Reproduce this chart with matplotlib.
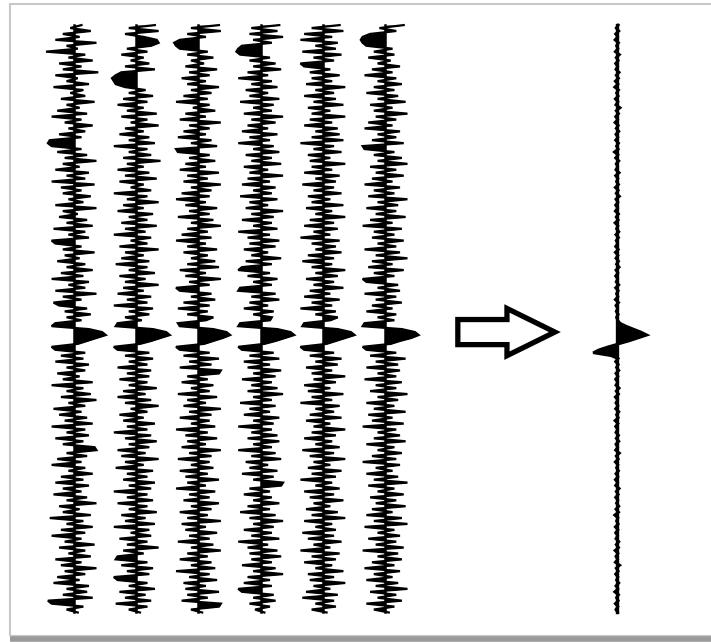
import numpy as np
import matplotlib.pyplot as plt
from matplotlib.patches import Rectangle, FancyArrow

# Raw gathers: six noisy traces (normalised amplitude, 2 ms sampling)
trace1 = [0.2, -0.1, 0.45, -0.3, 0.15, -0.5, 0.6, -0.2, 0.1, -0.75, 0.3, -0.15, 0.5, -0.4, 0.2, -0.3, 0.65, -0.5, 0.1, -0.2,
          0.4, -0.55, 0.25, -0.1, 0.3, -0.35, 0.55, -0.2, 0.15, -0.45, 0.35, -0.6, 0.2, -0.25, 0.5, -0.15, 0.3, -0.4, 0.2, -0.65,
          -0.7, -0.6, 0.2, -0.45, 0.35, -0.25, 0.6, -0.3, 0.15, -0.5, 0.4, -0.2, 0.3, -0.6, 0.55, -0.35, 0.2, -0.3, 0.45, -0.15,
          0.25, -0.5, 0.6, -0.3, 0.1, -0.4, 0.35, -0.2, 0.5, -0.55, 0.3, -0.15, 0.4, -0.6, -0.5, 0.2, -0.3, 0.55, -0.25, 0.15,
          -0.45, 0.3, -0.2, 0.5, -0.35, 0.25, -0.6, 0.4, -0.15, 0.3, -0.5, 0.6, -0.3, 0.2, -0.55, -0.4, 0.35, -0.25, 0.45, -0.2,
          0.2, -0.5, -0.6, 0.4, 0.75, 0.85, 0.6, 0.35, 0.1, -0.6, -0.5, 0.3, -0.35, 0.25, -0.5, 0.4, -0.2, 0.3, -0.45, 0.15,
          -0.3, 0.5, -0.6, 0.25, -0.2, 0.45, -0.35, 0.6, -0.15, 0.3, -0.55, 0.2, -0.4, 0.35, -0.25, 0.5, -0.6, 0.3, -0.2, 0.4,
          -0.5, 0.25, -0.3, 0.55, 0.6, -0.2, 0.35, -0.45, 0.2, -0.6, 0.3, -0.15, 0.5, -0.35, 0.25, -0.5, 0.4, -0.3, 0.2, -0.55,
          0.35, -0.2, 0.6, -0.4, 0.15, -0.3, 0.45, -0.65, 0.25, -0.2, 0.5, -0.35, 0.3, -0.6, 0.2, -0.25, 0.55, -0.4, 0.3, -0.15,
          0.45, -0.5, 0.2, -0.35, 0.6, -0.25, 0.3, -0.45, 0.15, -0.55, 0.4, -0.2, 0.35, -0.3, 0.5, -0.7, -0.6, 0.25, -0.2, 0.1]
trace2 = [0.5, -0.2, 0.6, -0.3, 0.2, 0.55, 0.6, 0.4, -0.25, 0.3, -0.4, 0.2, -0.15, 0.35, -0.3, 0.5, -0.4, -0.55, -0.65, -0.6,
          -0.55, -0.3, 0.25, -0.2, 0.45, -0.35, 0.3, -0.5, 0.2, -0.25, 0.55, -0.4, 0.3, -0.15, 0.6, -0.3, 0.2, -0.45, 0.35, -0.2,
          0.5, -0.6, 0.3, -0.2, 0.4, -0.35, 0.65, -0.25, 0.2, -0.5, 0.35, -0.3, 0.55, -0.45, 0.2, -0.15, 0.4, -0.6, 0.3, -0.25,
          0.6, -0.35, 0.2, -0.5, 0.45, -0.2, 0.3, -0.4, 0.55, -0.3, 0.25, -0.6, 0.4, -0.15, 0.3, -0.45, 0.6, -0.3, 0.2, -0.4,
          0.35, -0.55, 0.3, -0.2, 0.5, -0.45, 0.25, -0.3, 0.6, -0.35, 0.2, -0.5, 0.4, -0.25, 0.3, -0.6, 0.45, -0.2, 0.35, -0.3,
          0.15, -0.5, -0.55, 0.45, 0.8, 0.9, 0.65, 0.4, 0.1, -0.6, -0.5, 0.35, -0.3, 0.45, -0.2, 0.3, -0.5, 0.4, -0.25, 0.35,
          -0.45, 0.3, -0.2, 0.55, -0.35, 0.25, -0.5, 0.4, -0.3, 0.6, -0.15, 0.3, -0.45, 0.2, -0.35, 0.5, -0.25, 0.3, -0.6, 0.4,
          -0.3, 0.55, -0.2, 0.35, -0.5, 0.25, -0.4, 0.6, -0.3, 0.2, -0.55, 0.45, -0.25, 0.3, -0.35, 0.5, -0.2, 0.4, -0.6, 0.3,
          -0.25, 0.45, -0.5, 0.3, -0.2, 0.55, -0.4, 0.25, -0.3, 0.5, -0.6, 0.35, -0.15, 0.4, -0.45, 0.3, -0.25, 0.6, -0.35, 0.2,
          -0.5, -0.55, 0.3, -0.4, 0.45, -0.25, 0.35, -0.6, -0.5, 0.3, -0.2, 0.5, -0.45, 0.25, -0.3, 0.4, -0.55, 0.3, -0.2, 0.1]
trace3 = [0.55, -0.2, 0.6, -0.3, 0.2, -0.5, -0.65, -0.6, -0.5, 0.25, -0.3, 0.4, -0.2, 0.15, -0.35, 0.5, -0.25, 0.3, -0.45, 0.2,
          -0.3, 0.55, -0.2, 0.35, -0.4, 0.25, -0.6, 0.3, -0.15, 0.45, -0.35, 0.2, -0.5, 0.6, -0.25, 0.3, -0.4, 0.2, -0.55, 0.35,
          -0.2, 0.5, -0.6, -0.55, 0.3, -0.25, 0.45, -0.35, 0.2, -0.5, 0.55, -0.3, 0.25, -0.4, 0.6, -0.2, 0.35, -0.45, 0.3, -0.6,
          0.2, -0.35, 0.5, -0.25, 0.3, -0.55, 0.4, -0.2, 0.6, -0.3, 0.25, -0.45, 0.35, -0.6, 0.2, -0.3, 0.5, -0.4, 0.25, -0.2,
          0.45, -0.3, 0.55, -0.5, 0.2, -0.35, 0.6, -0.25, 0.3, -0.6, -0.5, 0.35, -0.2, 0.45, -0.4, 0.3, -0.55, 0.25, -0.3, 0.4,
          0.2, -0.55, -0.5, 0.4, 0.75, 0.85, 0.65, 0.4, 0.15, -0.6, -0.5, 0.3, -0.4, 0.55, -0.25, 0.35, -0.5, 0.6, 0.55, -0.3,
          0.25, -0.45, 0.4, -0.2, 0.3, -0.55, 0.5, -0.3, 0.2, -0.4, 0.6, -0.25, 0.35, -0.5, 0.3, -0.2, 0.45, -0.6, 0.25, -0.35,
          0.5, -0.3, 0.2, -0.45, 0.6, -0.25, 0.35, -0.55, 0.3, -0.2, 0.4, -0.5, 0.25, -0.35, 0.55, -0.3, 0.2, -0.6, 0.45, -0.25,
          0.3, -0.4, 0.55, -0.2, 0.35, -0.5, 0.25, -0.3, 0.6, -0.45, 0.2, -0.35, 0.5, -0.25, 0.3, -0.55, 0.4, -0.2, 0.6, -0.3,
          0.25, -0.5, 0.35, -0.2, 0.45, -0.6, 0.3, -0.25, 0.5, -0.4, 0.2, -0.35, 0.55, -0.3, 0.25, -0.45, 0.6, 0.55, -0.2, 0.1]
trace4 = [0.5, -0.25, 0.45, -0.3, 0.6, -0.2, 0.3, -0.5, -0.6, -0.65, -0.55, 0.25, -0.3, 0.4, -0.2, 0.55, -0.35, 0.2, -0.6, 0.3,
          -0.25, 0.45, -0.4, 0.2, -0.3, 0.5, -0.55, 0.35, -0.2, 0.3, -0.45, 0.6, -0.25, 0.4, -0.35, 0.2, -0.5, 0.45, -0.3, 0.25,
          -0.6, 0.35, -0.2, 0.5, -0.4, 0.3, -0.25, 0.55, -0.45, 0.2, -0.3, 0.6, -0.35, 0.25, -0.5, 0.4, -0.2, 0.3, -0.55, 0.45,
          -0.3, 0.2, -0.4, 0.6, -0.25, 0.35, -0.5, 0.3, -0.2, 0.45, -0.6, 0.25, -0.35, 0.5, -0.3, 0.4, -0.45, 0.2, -0.25, 0.55,
          -0.4, 0.3, -0.5, -0.6, 0.25, -0.35, 0.45, -0.2, 0.3, -0.55, -0.6, 0.4, -0.25, 0.5, -0.3, 0.2, -0.45, 0.35, -0.2, 0.3,
          0.25, -0.55, -0.6, 0.45, 0.8, 0.9, 0.65, 0.4, 0.1, -0.6, -0.5, 0.35, -0.3, 0.5, -0.45, 0.25, -0.35, 0.55, -0.2, 0.4,
          -0.5, 0.3, -0.25, 0.45, -0.35, 0.6, -0.2, 0.3, -0.55, 0.4, -0.3, 0.25, -0.45, 0.5, -0.2, 0.35, -0.6, 0.3, -0.25, 0.45,
          -0.35, 0.5, -0.2, 0.3, -0.6, 0.4, -0.25, 0.55, -0.4, 0.2, -0.3, 0.45, -0.5, 0.35, -0.2, 0.6, 0.55, -0.3, 0.25, -0.45,
          0.3, -0.2, 0.5, -0.35, 0.25, -0.55, 0.4, -0.3, 0.6, -0.2, 0.35, -0.45, 0.3, -0.25, 0.5, -0.6, 0.2, -0.35, 0.45, -0.3,
          0.55, -0.25, 0.3, -0.5, 0.4, -0.2, 0.6, -0.35, 0.25, -0.45, 0.3, -0.6, -0.5, 0.35, -0.2, 0.4, -0.3, 0.25, -0.15, 0.1]
trace5 = [0.45, -0.3, 0.55, -0.5, 0.25, -0.6, 0.4, -0.2, 0.35, -0.55, 0.5, -0.25, 0.3, -0.6, -0.5, 0.2, -0.35, 0.45, -0.3, 0.25,
          -0.45, 0.6, -0.2, 0.3, -0.5, 0.35, -0.25, 0.55, -0.4, 0.2, -0.3, 0.6, -0.35, 0.25, -0.5, 0.4, -0.2, 0.45, -0.3, 0.55,
          -0.6, 0.3, -0.25, 0.5, -0.4, 0.2, -0.35, 0.6, -0.3, 0.25, -0.5, 0.45, -0.2, 0.35, -0.55, 0.3, -0.25, 0.5, -0.4, 0.2,
          -0.3, 0.55, -0.45, 0.25, -0.2, 0.6, -0.35, 0.3, -0.5, 0.4, -0.25, 0.2, -0.6, 0.45, -0.3, 0.35, -0.2, 0.5, -0.4, 0.3,
          -0.55, 0.25, -0.3, 0.6, -0.2, 0.4, -0.45, 0.3, -0.25, 0.55, -0.35, 0.2, -0.5, 0.45, -0.3, 0.25, -0.6, 0.35, -0.2, 0.4,
          0.2, -0.5, -0.55, 0.4, 0.75, 0.85, 0.6, 0.35, 0.1, -0.6, -0.5, 0.3, -0.35, 0.5, -0.2, 0.4, -0.45, 0.25, -0.3, 0.6,
          -0.25, 0.35, -0.5, 0.2, -0.4, 0.55, -0.3, 0.25, -0.6, 0.45, -0.2, 0.3, -0.35, 0.5, -0.45, 0.2, -0.25, 0.6, -0.3, 0.35,
          -0.5, 0.25, -0.2, 0.45, -0.55, 0.3, -0.35, 0.6, -0.25, 0.2, -0.4, 0.5, -0.3, 0.35, -0.6, 0.25, -0.2, 0.45, -0.5, 0.3,
          -0.35, 0.55, -0.25, 0.2, -0.45, 0.4, -0.3, 0.6, -0.5, 0.25, -0.2, 0.35, -0.55, 0.3, -0.4, 0.5, -0.25, 0.2, -0.6, 0.45,
          -0.3, 0.35, -0.5, 0.25, -0.2, 0.55, -0.4, 0.3, -0.35, 0.6, -0.25, 0.2, -0.45, 0.4, -0.55, 0.3, -0.2, 0.35, -0.3, 0.1]
trace6 = [0.5, -0.15, 0.3, -0.4, -0.6, -0.65, -0.6, -0.5, 0.2, -0.3, 0.25, -0.45, 0.15, -0.2, 0.4, -0.35, 0.2, -0.55, 0.3, -0.2,
          0.45, -0.3, 0.25, -0.5, 0.35, -0.2, 0.55, -0.4, 0.2, -0.3, 0.6, -0.25, 0.3, -0.45, 0.2, -0.55, 0.4, -0.2, 0.3, -0.35,
          0.5, -0.6, -0.55, 0.25, -0.3, 0.45, -0.2, 0.6, -0.4, 0.3, -0.25, 0.5, -0.35, 0.2, -0.55, 0.4, -0.3, 0.25, -0.45, 0.6,
          -0.2, 0.35, -0.5, 0.3, -0.25, 0.55, -0.4, 0.2, -0.6, 0.45, -0.3, 0.25, -0.35, 0.5, -0.2, 0.3, -0.55, 0.4, -0.25, 0.6,
          -0.35, 0.2, -0.45, 0.5, -0.3, 0.25, -0.6, -0.5, 0.35, -0.2, 0.4, -0.55, 0.3, -0.25, 0.45, -0.35, 0.2, -0.5, 0.3, -0.2,
          0.25, -0.55, -0.6, 0.45, 0.8, 0.9, 0.7, 0.4, 0.15, -0.6, -0.5, 0.3, -0.4, 0.55, -0.25, 0.35, -0.5, 0.4, -0.2, 0.3,
          -0.55, 0.45, -0.25, 0.3, -0.4, 0.6, -0.2, 0.35, -0.5, 0.25, -0.3, 0.55, -0.45, 0.2, -0.35, 0.5, -0.6, 0.3, -0.2, 0.4,
          -0.3, 0.55, -0.5, 0.25, -0.2, 0.45, -0.35, 0.3, -0.6, 0.4, -0.25, 0.2, -0.5, 0.35, -0.3, 0.6, -0.45, 0.25, -0.2, 0.5,
          -0.4, 0.3, -0.25, 0.55, -0.35, 0.2, -0.5, 0.45, -0.3, 0.6, -0.55, 0.25, -0.2, 0.4, -0.45, 0.3, -0.25, 0.5, -0.6, 0.35,
          -0.2, 0.45, -0.35, 0.25, -0.55, 0.4, -0.3, 0.2, -0.5, 0.35, -0.25, 0.6, -0.4, 0.3, -0.2, 0.45, -0.5, 0.25, -0.3, 0.1]

# Stacked output trace
stack = [0.04, -0.03, 0.06, -0.05, 0.02, -0.07, 0.05, -0.02, 0.03, -0.06, 0.08, -0.03, 0.04, -0.05, 0.02, -0.04, 0.07, -0.03, 0.05, -0.06,
         0.03, -0.08, 0.05, -0.02, 0.04, -0.06, 0.03, -0.04, 0.1, -0.03, 0.05, -0.05, 0.02, -0.07, 0.04, -0.03, 0.06, -0.04, 0.03, -0.05,
         0.05, -0.02, 0.04, -0.09, 0.03, -0.05, 0.06, -0.03, 0.02, -0.04, 0.07, -0.05, 0.03, -0.02, 0.05, -0.06, 0.04, -0.03, 0.08, -0.04,
         0.03, -0.05, 0.02, -0.06, 0.05, -0.03, 0.04, -0.07, 0.03, -0.02, 0.06, -0.04, 0.05, -0.03, 0.02, -0.05, 0.04, -0.06, 0.03, -0.04,
         0.05, -0.02, 0.07, -0.04, 0.03, -0.05, 0.02, -0.03, 0.06, -0.05, 0.04, -0.02, 0.03, -0.06, 0.05, -0.04, 0.02, -0.03, 0.04, -0.02,
         0.02, 0.1, 0.3, 0.55, 0.8, 1.0, 0.7, 0.4, 0.05, -0.3, -0.6, -0.8, -0.2, 0.03, -0.05, 0.04, -0.02, 0.06, -0.04, 0.03,
         -0.05, 0.02, -0.04, 0.07, -0.03, 0.05, -0.06, 0.02, -0.04, 0.03, -0.05, 0.06, -0.02, 0.04, -0.07, 0.03, -0.05, 0.02, -0.04, 0.05,
         -0.03, 0.06, -0.04, 0.02, -0.05, 0.08, -0.03, 0.04, -0.06, 0.03, -0.02, 0.05, -0.04, 0.03, -0.06, 0.02, -0.05, 0.07, -0.03, 0.04,
         -0.05, 0.03, -0.02, 0.06, -0.04, 0.05, -0.08, 0.03, -0.02, 0.04, -0.06, 0.03, -0.05, 0.02, -0.04, 0.06, -0.03, 0.05, -0.07, 0.03,
         -0.04, 0.02, -0.06, 0.09, -0.03, 0.04, -0.05, 0.03, -0.02, 0.06, -0.04, 0.03, -0.08, 0.05, -0.02, 0.04, -0.06, 0.03, -0.04, 0.02]

gathers = [trace1, trace2, trace3, trace4, trace5, trace6]
dt = 2.0
gather_gain = 0.6
stack_gain = 0.48
stack_pos = 9.73

fig = plt.figure(figsize=(7.11, 6.42), dpi=100)
ax = fig.add_axes([0, 0, 1, 1])
ax.set_xlim(-0.19, 11.24)
ax.set_ylim(418, -17)
ax.axis('off')


def wiggle(ax, amp, x0, gain, lw=1.6, spine_lw=1.8):
    a = np.asarray(amp) * gain
    t = np.arange(len(a)) * dt
    ax.fill_betweenx(t, x0, x0 + a, color='black', lw=0)
    ax.plot(x0 + a, t, color='black', lw=lw, solid_joinstyle='miter')
    ax.plot([x0, x0], [t[0], t[-1]], color='black', lw=spine_lw)


for i, tr in enumerate(gathers):
    wiggle(ax, tr, i + 1, gather_gain)

wiggle(ax, stack, stack_pos, stack_gain, lw=2.0, spine_lw=2.4)

# hollow arrow between gathers and stack
ax.add_patch(FancyArrow(7.17, 208, 1.56, 0, width=17, head_width=32,
                        head_length=0.77, length_includes_head=True,
                        fc='white', ec='black', lw=3.8, joinstyle='miter'))

# page frame with a soft shadow at the bottom
ax.add_patch(Rectangle((0.014, 0.009), 1.0, 0.985, transform=ax.transAxes,
                       fill=False, ec='#c8c8c8', lw=1.5, clip_on=False))
ax.plot([0.014, 1.0], [0.005, 0.005], transform=ax.transAxes,
        color='#9a9a9a', lw=4, solid_capstyle='butt')

fig.savefig('out.png', dpi=100)
